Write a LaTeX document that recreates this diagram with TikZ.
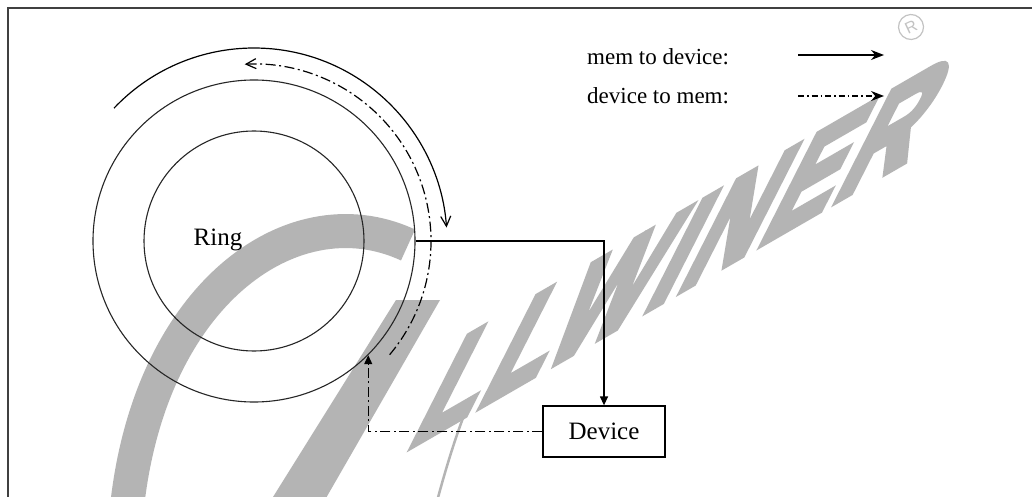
\documentclass[tikz,border=0pt]{standalone}
\usepackage{fontspec}
\setmainfont{Liberation Serif}
\newfontfamily\wmfont[UprightFont={* Bold}, FakeBold=6, LetterSpace=4]{Liberation Sans}
\newfontfamily\regfont{Liberation Sans}
\usetikzlibrary{arrows.meta,calc}
\definecolor{wmgrey}{RGB}{180,180,180}
\definecolor{reggrey}{RGB}{195,195,195}
\begin{document}
\begin{tikzpicture}[x=1pt,y=-1pt,
  ring/.style={circle, draw=black!85, line width=1.1pt, inner sep=0pt},
  lbl/.style={font=\fontsize{25}{25}\selectfont, inner sep=0pt},
  legendtxt/.style={font=\fontsize{23}{23}\selectfont, anchor=west, inner sep=0pt},
  conn/.style={line width=1.3pt},
  dd/.style={line width=1.3pt, dash pattern=on 10pt off 3.5pt on 2pt off 3.5pt},
  ddsmall/.style={line width=1.3pt, dash pattern=on 6pt off 3pt on 1.5pt off 3pt},
  filltip/.style={-{Triangle[length=9pt,width=8pt]}},
  opentip/.style={-{Straight Barb[length=10pt,width=10pt]}},
  legtip/.style={-{Stealth[length=13pt,width=10pt]}}
]
\path[use as bounding box] (0,0) rectangle (1032,497);
\fill[white] (0,0) rectangle (1032,497);

% watermark
\begin{scope}
\clip (0,0) rectangle (1032,497);
\draw[line width=34pt, wmgrey] (125,530) .. controls (140,300) and (290,190) .. (408,245);
\fill[wmgrey] (268,505) -- (322,505) -- (440,300) -- (396,300) -- cycle;
\draw[wmgrey, line width=2.5pt] (436,505) .. controls (448,460) and (458,430) .. (468,405);
\end{scope}
\begin{scope}[shift={(405,450)}, cm={0.866,0.5,0.66,1.30,(0,0)}]
\node[transform shape, anchor=base west, inner sep=0pt, text=wmgrey,
  font=\wmfont\fontsize{122}{122}\selectfont] (wm) at (0,0) {LLWINER};
\end{scope}
\node[circle, draw=reggrey, line width=1.2pt, minimum size=25pt, inner sep=0pt,
  text=reggrey, font=\regfont\fontsize{16}{16}\selectfont, rotate=25] (reg) at (911,27) {R};

% frame
\draw[line width=2.2pt, black!75] (8,497) -- (8,8) -- (1032,8);

% ring
\coordinate (c) at (254,241);
\node[ring, minimum size=322pt] (outer) at (c) {};
\node[ring, minimum size=220pt] (inner) at (c) {};
\node[lbl] (ringlbl) at (218,240) {Ring};

\draw[line width=1.2pt, opentip] ($(c)+(136.5:193pt)$) arc[start angle=136.5, end angle=4, radius=193pt];
\draw[dd, line width=1.2pt, opentip] ($(c)+(-40:177pt)$) arc[start angle=-40, end angle=93, radius=177pt];

% device
\node[draw, line width=1.3pt, minimum width=122pt, minimum height=51pt, lbl] (dev) at (604,431.5) {Device};
\draw[conn, filltip] (outer.east) -| (dev.north);
\draw[dd, filltip] (dev.west) -| (outer.-45);

% legend
\node[legendtxt] (l1) at (587,57) {mem to device:};
\node[legendtxt] (l2) at (587,96) {device to mem:};
\coordinate (a1s) at (798,55); \coordinate (a1e) at (884,55);
\coordinate (a2s) at (798,96); \coordinate (a2e) at (884,96);
\draw[conn, legtip] (a1s) -- (a1e);
\draw[ddsmall, legtip] (a2s) -- (a2e);
\end{tikzpicture}
\end{document}
